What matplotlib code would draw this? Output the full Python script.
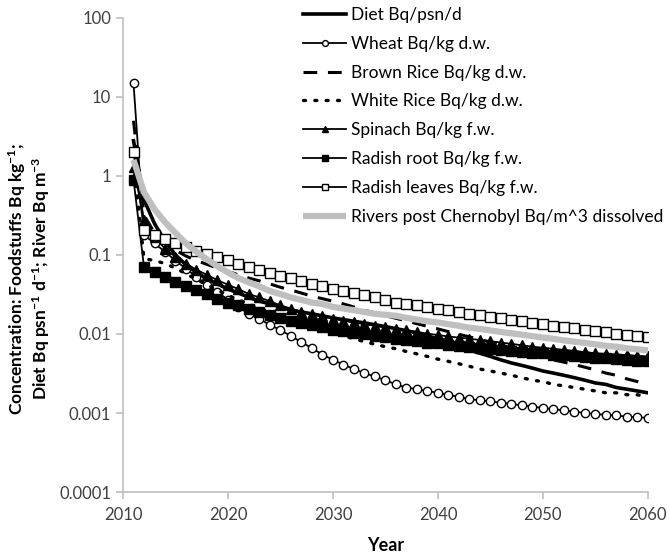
import numpy as np
import matplotlib
matplotlib.use("Agg")
import matplotlib.pyplot as plt
from matplotlib.ticker import FixedLocator, FuncFormatter

plt.rcParams['font.family'] = ['Lato', 'DejaVu Sans']
plt.rcParams['mathtext.fontset'] = 'custom'
plt.rcParams['mathtext.rm'] = 'Lato:bold'
plt.rcParams['mathtext.it'] = 'Lato:bold'
plt.rcParams['mathtext.bf'] = 'Lato:bold'
plt.rcParams['mathtext.default'] = 'regular'

years = list(range(2011, 2061))

diet = [2.8, 0.5, 0.25, 0.15, 0.1, 0.075, 0.06, 0.05, 0.043, 0.037,
        0.033, 0.029, 0.026, 0.024, 0.022, 0.02, 0.019, 0.018, 0.017, 0.016,
        0.0152, 0.0145, 0.0138, 0.0131, 0.0124, 0.0117, 0.011, 0.0103, 0.0095, 0.0086,
        0.0077, 0.0069, 0.0063, 0.0057, 0.0052, 0.0047, 0.0043, 0.004, 0.0037, 0.0034,
        0.0032, 0.003, 0.0028, 0.0026, 0.0024, 0.0023, 0.0021, 0.002, 0.0019, 0.0018]

wheat = [15, 0.18, 0.14, 0.11, 0.085, 0.067, 0.053, 0.042, 0.034, 0.027,
         0.022, 0.018, 0.0155, 0.013, 0.0112, 0.0094, 0.0079, 0.0066, 0.0055, 0.0047,
         0.0041, 0.0036, 0.0032, 0.0029, 0.0026, 0.0023, 0.0021, 0.002, 0.0019, 0.0018,
         0.0017, 0.0016, 0.0015, 0.00145, 0.0014, 0.00135, 0.0013, 0.00125, 0.0012, 0.00116,
         0.00112, 0.00108, 0.00104, 0.001, 0.00097, 0.00095, 0.00093, 0.0009, 0.00088, 0.00087]

brown_rice = [5.0, 0.32, 0.19, 0.14, 0.115, 0.097, 0.085, 0.076, 0.068, 0.062,
              0.056, 0.051, 0.047, 0.043, 0.039, 0.036, 0.033, 0.030, 0.028, 0.026,
              0.024, 0.022, 0.020, 0.0185, 0.017, 0.0158, 0.0146, 0.0135, 0.0125, 0.0116,
              0.0107, 0.0099, 0.0092, 0.0085, 0.0079, 0.0073, 0.0068, 0.0063, 0.0058, 0.0052,
              0.0047, 0.0044, 0.0041, 0.0038, 0.0035, 0.0032, 0.003, 0.0027, 0.0025, 0.0023]

white_rice = [1.5, 0.09, 0.085, 0.078, 0.068, 0.058, 0.049, 0.042, 0.036, 0.031,
              0.027, 0.024, 0.021, 0.019, 0.017, 0.0152, 0.0137, 0.0124, 0.0113, 0.0103,
              0.0095, 0.0087, 0.008, 0.0074, 0.0069, 0.0065, 0.006, 0.0056, 0.0052, 0.0048,
              0.0045, 0.0042, 0.0039, 0.0036, 0.0034, 0.0032, 0.003, 0.0028, 0.0026, 0.0025,
              0.0023, 0.0022, 0.0021, 0.002, 0.0019, 0.0018, 0.0018, 0.0017, 0.0017, 0.0016]

spinach = [1.3, 0.28, 0.17, 0.12, 0.095, 0.078, 0.065, 0.056, 0.048, 0.042,
           0.037, 0.032, 0.029, 0.026, 0.023, 0.021, 0.019, 0.0178, 0.0167, 0.0157,
           0.0148, 0.014, 0.0133, 0.0127, 0.0121, 0.0116, 0.0111, 0.0106, 0.0101, 0.0097,
           0.0093, 0.009, 0.0087, 0.0084, 0.0081, 0.0078, 0.0075, 0.0072, 0.0069, 0.0067,
           0.0065, 0.0063, 0.0061, 0.0059, 0.0057, 0.0056, 0.0055, 0.0054, 0.0053, 0.0052]

radish_root = [0.9, 0.07, 0.061, 0.053, 0.046, 0.04, 0.036, 0.032, 0.028, 0.025,
               0.023, 0.021, 0.019, 0.0175, 0.016, 0.0148, 0.0138, 0.0129, 0.0121, 0.0114,
               0.0108, 0.0103, 0.0099, 0.0095, 0.0091, 0.0087, 0.0084, 0.0081, 0.0078, 0.0076,
               0.0073, 0.0071, 0.0069, 0.0067, 0.0065, 0.0063, 0.0061, 0.006, 0.0058, 0.0057,
               0.0055, 0.0054, 0.0052, 0.0051, 0.005, 0.0049, 0.0048, 0.0047, 0.0046, 0.0045]

radish_leaves = [2.0, 0.21, 0.18, 0.16, 0.14, 0.125, 0.113, 0.102, 0.094, 0.086,
                 0.078, 0.071, 0.065, 0.06, 0.055, 0.051, 0.047, 0.043, 0.04, 0.037,
                 0.035, 0.033, 0.031, 0.029, 0.027, 0.025, 0.024, 0.023, 0.022, 0.021,
                 0.02, 0.019, 0.018, 0.0172, 0.0165, 0.0158, 0.0151, 0.0145, 0.0139, 0.0133,
                 0.0128, 0.0123, 0.0118, 0.0113, 0.0109, 0.0105, 0.0101, 0.0097, 0.0094, 0.0091]

rivers = [1.6, 0.62, 0.38, 0.26, 0.19, 0.14, 0.11, 0.088, 0.072, 0.06,
          0.051, 0.045, 0.04, 0.035, 0.032, 0.029, 0.027, 0.025, 0.024, 0.022,
          0.021, 0.020, 0.019, 0.018, 0.0175, 0.017, 0.016, 0.0152, 0.0145, 0.014,
          0.0133, 0.0127, 0.012, 0.0116, 0.0111, 0.0106, 0.0102, 0.0098, 0.0094, 0.009,
          0.0087, 0.0083, 0.008, 0.0077, 0.0074, 0.0071, 0.0069, 0.0066, 0.0064, 0.0062]

labels = ['Diet Bq/psn/d', 'Wheat Bq/kg d.w.', 'Brown Rice Bq/kg d.w.',
          'White Rice Bq/kg d.w.', 'Spinach Bq/kg f.w.', 'Radish root Bq/kg f.w.',
          'Radish leaves Bq/kg f.w.', 'Rivers post Chernobyl Bq/m^3 dissolved']

y_ticks = [0.0001, 0.001, 0.01, 0.1, 1, 10, 100]
y_tick_labels = ['0.0001', '0.001', '0.01', '0.1', '1', '10', '100']
x_ticks = [2010, 2020, 2030, 2040, 2050, 2060]

fig = plt.figure(figsize=(6.7, 5.55), dpi=100)
ax = fig.add_axes([0.1836, 0.1135, 0.7834, 0.8541])

k = 'black'
ax.plot(years, diet, color=k, lw=2.6, label=labels[0])
ax.plot(years, wheat, color=k, lw=1.3, marker='o', ms=6, mfc='white', mec=k, mew=1.0, label=labels[1])
ax.plot(years, brown_rice, color=k, lw=2.2, ls=(0, (4.5, 3.5)), label=labels[2])
ax.plot(years, white_rice, color=k, lw=2.4, ls=(0, (0.6, 2.8)), dash_capstyle='round', label=labels[3])
ax.plot(years, spinach, color=k, lw=1.3, marker='^', ms=7, label=labels[4])
ax.plot(years, radish_root, color=k, lw=1.3, marker='s', ms=7, label=labels[5])
ax.plot(years, radish_leaves, color=k, lw=1.3, marker='s', ms=7, mfc='white', mec=k, mew=1.0, label=labels[6])
ax.plot(years, rivers, color='#bfbfbf', lw=4.5, solid_capstyle='butt', label=labels[7])

ax.set_yscale('log')
ax.set_ylim(0.0001, 100)
ax.set_xlim(2010, 2060)
ax.yaxis.set_major_locator(FixedLocator(y_ticks))
ax.yaxis.set_major_formatter(FuncFormatter(lambda v, p: y_tick_labels[y_ticks.index(v)] if v in y_ticks else ''))
ax.yaxis.set_minor_locator(FixedLocator([]))
ax.set_xticks(x_ticks)
ax.set_xticklabels([str(x) for x in x_ticks])

for s in ['top', 'right']:
    ax.spines[s].set_visible(False)
for s in ['left', 'bottom']:
    ax.spines[s].set_color('#bfbfbf')
    ax.spines[s].set_linewidth(1.2)
ax.tick_params(axis='both', colors='#bfbfbf', length=5, width=1.2, labelsize=12, labelcolor='#404040')
ax.tick_params(axis='x', pad=6)

ax.set_xlabel('Year', fontsize=13, fontweight='bold', labelpad=10)
ax.set_ylabel('Concentration: Foodstuffs Bq kg$^{-1}$;\nDiet Bq psn$^{-1}$ d$^{-1}$; River Bq m$^{-3}$',
              fontsize=12.5, fontweight='bold', linespacing=1.15)
ax.yaxis.set_label_coords(-0.135, 0.45)

leg = fig.legend(loc='upper left', bbox_to_anchor=(0.442, 1.0), frameon=False, fontsize=12.5,
                 handlelength=2.5, handletextpad=0.25, labelspacing=0.74, markerscale=0.7,
                 borderaxespad=0.0)

fig.savefig('out.png', dpi=100, facecolor='white')
